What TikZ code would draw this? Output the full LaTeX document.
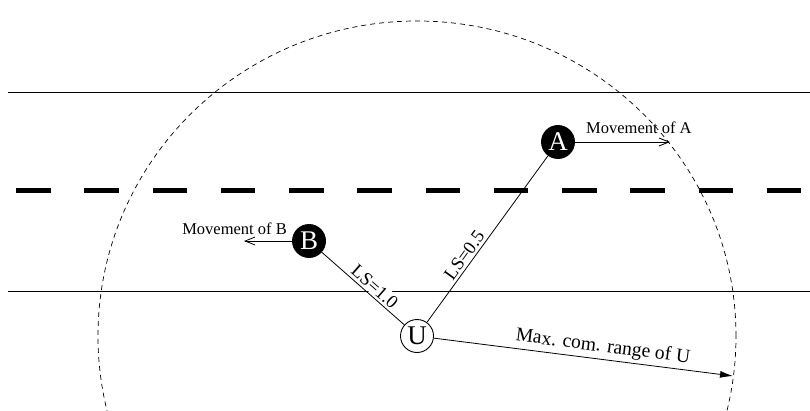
\documentclass[tikz,border=0pt]{standalone}
\usepackage{fontspec}
\setmainfont{Liberation Serif}
\usetikzlibrary{arrows.meta}
\begin{document}
\begin{tikzpicture}[x=1pt,y=1pt,
  thinline/.style={line width=0.8pt},
  station/.style={circle, draw, line width=0.9pt, minimum size=33pt, inner sep=0pt,
    font=\fontsize{27}{27}\selectfont},
  mobile/.style={station, fill=black, text=white},
  linklabel/.style={sloped, above=1pt, fill=white, inner sep=1.5pt,
    font=\fontsize{18.5}{18.5}\selectfont},
  rangelabel/.style={sloped, above=2pt, inner sep=1pt,
    font=\fontsize{19.5}{19.5}\selectfont},
  movelabel/.style={inner sep=0pt, font=\fontsize{16.5}{16.5}\selectfont},
  rangearc/.style={line width=0.7pt, dash pattern=on 5pt off 4pt},
  lanedash/.style={line width=5pt, dash pattern=on 34.5pt off 33.75pt},
  movearrow/.style={thinline, -{Straight Barb[length=10pt,width=8pt]}},
  rangearrow/.style={thinline, -{Latex[length=13pt,width=7pt]}},
]
\useasboundingbox (0,0) rectangle (810,410);

% road: edges and centre lane marking
\draw[thinline] (8,318) -- (810,318);
\draw[thinline] (8,119) -- (810,119);
\draw[lanedash] (16,219.5) -- (801,219.5);

% vehicles
\node[station] (U) at (417,74) {U};
\node[mobile] (A) at (558,268) {A};
\node[mobile] (B) at (309,169) {B};

% communication range of U
\begin{scope}
  \clip (0,0) rectangle (810,410);
  \draw[rangearc] (U.center) ellipse [x radius=319, y radius=315];
\end{scope}

\coordinate (Aend) at (670,268);
\coordinate (Bend) at (244,169);
\coordinate (Rend) at (733,34);

% links with their stability values
\draw[thinline] (B) -- node[linklabel, pos=0.57] {LS=1.0} (U);
\draw[thinline] (U) -- node[linklabel, pos=0.37] {LS=0.5} (A);

% range arrow
\draw[rangearrow] (U) -- node[rangelabel, pos=0.56] {Max. com. range of U} (Rend);

% movement directions
\draw[movearrow] (A) -- (Aend);
\draw[movearrow] (B) -- (Bend);
\node[movelabel, anchor=base west] (mA) at (586,276) {Movement of A};
\node[movelabel, anchor=base east] (mB) at (287,176) {Movement of B};
\end{tikzpicture}
\end{document}
